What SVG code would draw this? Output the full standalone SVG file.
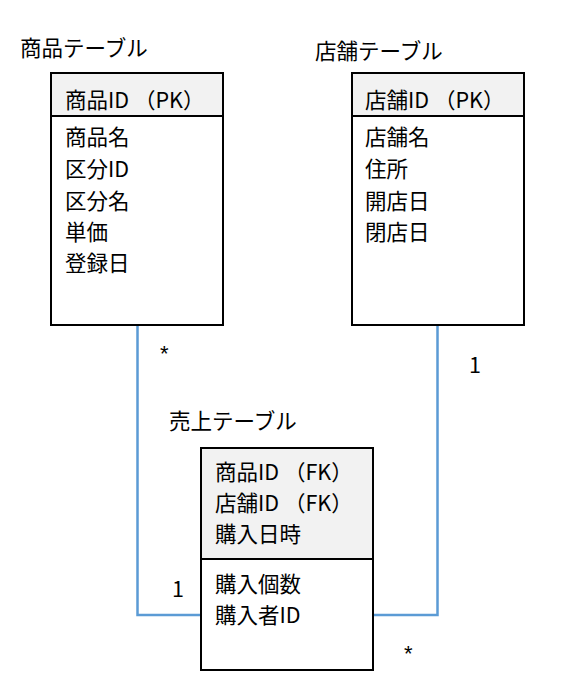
<svg xmlns="http://www.w3.org/2000/svg" width="564" height="696" viewBox="0 0 564 696">
<style>
text{font-family:"Noto Sans CJK JP","Noto Sans",sans-serif;font-size:21.5px;fill:#000;dominant-baseline:central}
.ast{font-family:"Liberation Sans",sans-serif;font-size:22px}
.box{fill:#fff;stroke:#000;stroke-width:2}
.hdr{fill:#f2f2f2;stroke:#000;stroke-width:2}
.conn{fill:none;stroke:#5b9bd5;stroke-width:2.5}
</style>
<rect width="564" height="696" fill="#fff"/>
<g id="connectors">
<polyline class="conn" points="137.5,325 137.5,615 201,615"/>
<polyline class="conn" points="437.5,325 437.5,615 373,615"/>
<text class="ast" x="160" y="353">*</text>
<text x="469" y="363">1</text>
<text x="172" y="587">1</text>
<text class="ast" x="404" y="653">*</text>
</g>
<g id="product">
<text x="20" y="46">商品テーブル</text>
<rect class="box" x="51" y="73" width="172" height="252"/>
<rect class="hdr" x="51" y="73" width="172" height="43"/>
<text x="65" y="98">商品ID （PK）</text>
<text x="65" y="135">商品名</text>
<text x="65" y="167">区分ID</text>
<text x="65" y="199">区分名</text>
<text x="65" y="230">単価</text>
<text x="65" y="261">登録日</text>
</g>
<g id="store">
<text x="315" y="49">店舗テーブル</text>
<rect class="box" x="352" y="73" width="172" height="252"/>
<rect class="hdr" x="352" y="73" width="172" height="43"/>
<text x="365" y="98">店舗ID （PK）</text>
<text x="365" y="135">店舗名</text>
<text x="365" y="167">住所</text>
<text x="365" y="199">開店日</text>
<text x="365" y="230">閉店日</text>
</g>
<g id="sales">
<text x="169" y="419">売上テーブル</text>
<rect class="box" x="201" y="448" width="172" height="222"/>
<rect class="hdr" x="201" y="448" width="172" height="111"/>
<text x="215" y="470">商品ID （FK）</text>
<text x="215" y="501">店舗ID （FK）</text>
<text x="215" y="532">購入日時</text>
<text x="215" y="582">購入個数</text>
<text x="215" y="613">購入者ID</text>
</g>
</svg>
